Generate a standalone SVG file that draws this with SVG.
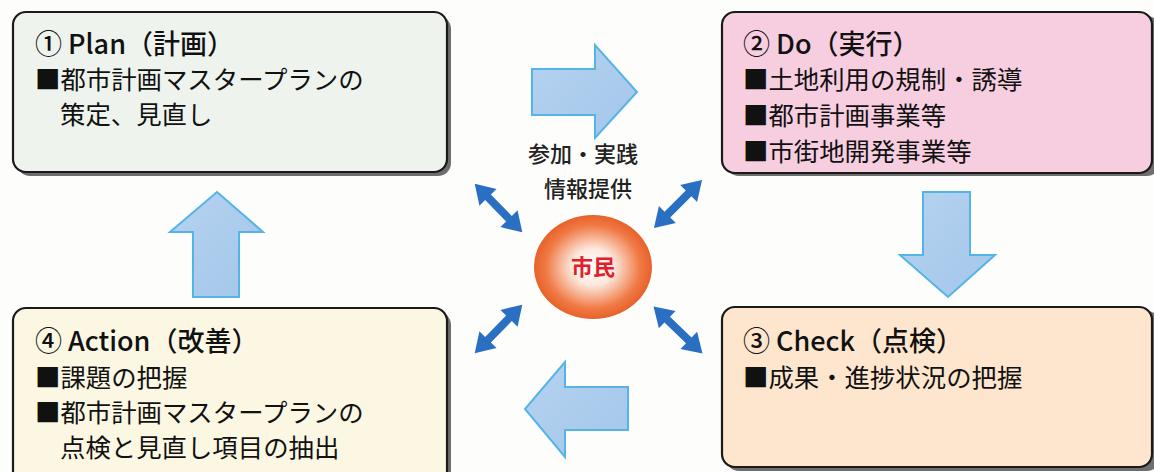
<svg xmlns="http://www.w3.org/2000/svg" width="1154" height="472" viewBox="0 0 1154 472">
<defs>
<style>
.box{stroke:#1a1a1a;stroke-width:2.2}
.shadow{fill:#6e6e6e}
.title{font-family:"Noto Sans CJK JP","Noto Sans",sans-serif;font-size:27px;font-weight:500;fill:#111}
.body{font-family:"Noto Sans CJK JP","Noto Sans",sans-serif;font-size:25.4px;font-weight:400;fill:#111}
.lab{font-family:"Noto Sans CJK JP",sans-serif;font-size:22px;font-weight:500;fill:#222;text-anchor:middle}
.flow{fill:url(#ag);stroke:#55b4e6;stroke-width:2;stroke-linejoin:miter}
.dbl{fill:#2a6fc2}
</style>
<linearGradient id="ag" x1="0" y1="0" x2="1" y2="1">
<stop offset="0" stop-color="#b6d3f0"/>
<stop offset="1" stop-color="#a3c6ea"/>
</linearGradient>
<radialGradient id="og" cx="0.5" cy="0.5" r="0.5">
<stop offset="0" stop-color="#ffffff"/>
<stop offset="0.35" stop-color="#fde8de"/>
<stop offset="0.8" stop-color="#f07a45"/>
<stop offset="1" stop-color="#e8612a"/>
</radialGradient>
<path id="dblarrow" class="dbl" d="M-34,0 L-15,-12 L-15,-4 L15,-4 L15,-12 L34,0 L15,12 L15,4 L-15,4 L-15,12 Z"/>
</defs>
<rect width="1154" height="472" fill="#fdfdfb"/>

<g id="node-plan">
<rect class="shadow" x="17" y="16" width="434" height="160" rx="13"/>
<rect class="box" x="13" y="12" width="434" height="160" rx="13" fill="#eef4ed"/>
<text class="title" x="35" y="54">① Plan（計画）</text>
<text class="body" x="35" y="89">■都市計画マスタープランの</text>
<text class="body" x="60" y="124">策定、見直し</text>
</g>

<g id="node-do">
<rect class="shadow" x="726" y="16" width="434" height="160" rx="13"/>
<rect class="box" x="722" y="12" width="430" height="161" rx="13" fill="#f7cee0"/>
<text class="title" x="743" y="54">② Do（実行）</text>
<text class="body" x="743" y="89">■土地利用の規制・誘導</text>
<text class="body" x="743" y="125">■都市計画事業等</text>
<text class="body" x="743" y="161">■市街地開発事業等</text>
</g>

<g id="node-check">
<rect class="shadow" x="726" y="311" width="434" height="160" rx="13"/>
<rect class="box" x="722" y="307" width="430" height="160" rx="13" fill="#fde6cd"/>
<text class="title" x="743" y="351">③ Check（点検）</text>
<text class="body" x="743" y="387">■成果・進捗状況の把握</text>
</g>

<g id="node-action">
<rect class="shadow" x="17" y="312" width="434" height="180" rx="13"/>
<rect class="box" x="13" y="308" width="434" height="180" rx="13" fill="#fbf7e3"/>
<text class="title" x="35" y="351">④ Action（改善）</text>
<text class="body" x="35" y="387">■課題の把握</text>
<text class="body" x="35" y="422">■都市計画マスタープランの</text>
<text class="body" x="60" y="457">点検と見直し項目の抽出</text>
</g>

<g id="node-shimin">
<ellipse cx="593" cy="267" rx="59" ry="52" fill="url(#og)"/>
<text x="593" y="275" font-family="Noto Sans CJK JP, sans-serif" font-size="22" font-weight="700" fill="#e0202a" text-anchor="middle">市民</text>
</g>

<g id="connectors">
<polygon class="flow" points="532,69 595,69 595,45 637,92 595,138 595,115 532,115"/>
<polygon class="flow" points="923,192 970,192 970,255 995,255 948,297 900,255 923,255"/>
<polygon class="flow" points="628,387 565,387 565,362 525,409 565,457 565,430 628,430"/>
<polygon class="flow" points="217,192 263,232 239,232 239,297 193,297 193,232 170,232"/>
<use href="#dblarrow" transform="translate(498.5,208) rotate(45.6)"/>
<use href="#dblarrow" transform="translate(678,204) rotate(-45)"/>
<use href="#dblarrow" transform="translate(498.5,329) rotate(-45.6)"/>
<use href="#dblarrow" transform="translate(678,330) rotate(44)"/>
<text class="lab" x="583" y="162">参加・実践</text>
<text class="lab" x="588" y="197">情報提供</text>
</g>
</svg>
